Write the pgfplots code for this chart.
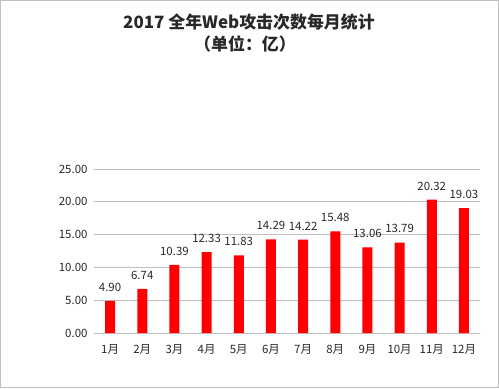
\documentclass[border=0pt]{standalone}
\usepackage{fontspec}
\setmainfont{Noto Sans CJK SC}
\usepackage{pgfplots}
\pgfplotsset{compat=1.18}
\definecolor{gridgray}{RGB}{191,191,191}
\definecolor{barred}{RGB}{255,0,0}
\definecolor{txt}{RGB}{40,40,40}
\begin{document}
\begin{tikzpicture}[x=1bp,y=1bp]
\draw[gridgray, line width=1.2bp] (0.6,0.6) rectangle (498.4,387.4);
\node[font=\bfseries\fontsize{17}{20}\selectfont, text=txt] at (249,366) {2017 全年Web攻击次数每月统计};
\node[font=\bfseries\fontsize{17}{20}\selectfont, text=txt] at (245,344) {（单位：亿）};
\begin{axis}[
  at={(94bp,55bp)}, anchor=south west,
  scale only axis, width=386bp, height=164bp,
  ymin=0, ymax=25, xmin=-0.5, xmax=11.5,
  ytick={0,5,10,15,20,25},
  ymajorgrids, grid style={gridgray, line width=0.8bp},
  axis x line*=bottom, axis y line*=left,
  y axis line style={draw=none},
  x axis line style={gridgray, line width=0.8bp},
  tick style={draw=none},
  xtick=data,
  xticklabels={1月,2月,3月,4月,5月,6月,7月,8月,9月,10月,11月,12月},
  yticklabel style={xshift=-3bp, /pgf/number format/.cd, fixed, zerofill, precision=2},
  /pgf/number format/assume math mode=true,
  ticklabel style={font=\fontsize{11.5}{13}\selectfont, text=txt},
  xticklabel style={yshift=-4bp},
  ybar, bar width=10bp,
  nodes near coords={\pgfmathprintnumber[fixed,zerofill,precision=2]{\pgfplotspointmeta}},
  nodes near coords style={font=\fontsize{11.5}{13}\selectfont, text=txt, yshift=6bp},
]
\addplot[fill=barred, draw=none] coordinates {
(0,4.90) (1,6.74) (2,10.39) (3,12.33) (4,11.83) (5,14.29)
(6,14.22) (7,15.48) (8,13.06) (9,13.79) (10,20.32) (11,19.03)
};
\end{axis}
\end{tikzpicture}
\end{document}
